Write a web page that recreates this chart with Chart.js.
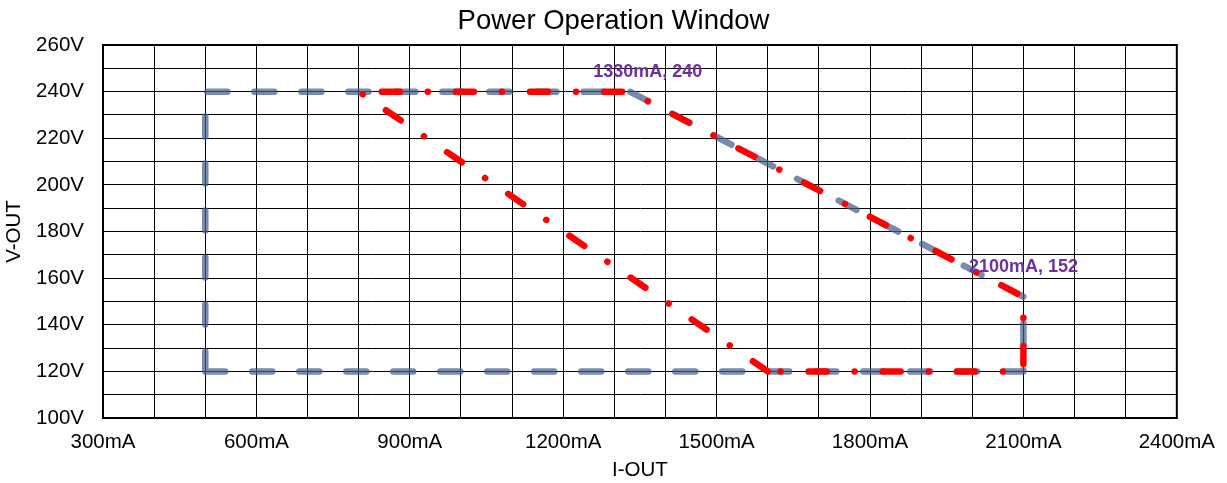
<!DOCTYPE html>
<html>
<head>
<meta charset="utf-8">
<script src="https://cdn.jsdelivr.net/npm/chart.js@4"></script>
<style>
html,body{margin:0;padding:0;background:#fff;}
#wrap{width:1227px;height:483px;}
</style>
</head>
<body>
<div id="wrap"><canvas id="c" width="1227" height="483"></canvas></div>
<script>
// ---- data ----
const blueX = [500, 2100, 2100, 1330, 500, 500];
const blueY = [120, 120, 152, 240, 240, 120];
const redX = [1600, 800, 1330, 2100, 2100, 1600];
const redY = [120, 240, 240, 152, 120, 120];
const labelX = [1330, 2100];
const labelY = [240, 152];
const labelText = ['1330mA, 240', '2100mA, 152'];
const titleText = 'Power Operation Window';
const xMin = 300, xMax = 2400, xStep = 100, xLabelEvery = 300;
const yMin = 100, yMax = 260, yStep = 10, yLabelEvery = 20;

const toPts = (xs, ys) => xs.map((x, i) => ({x: x, y: ys[i]}));
const FONT = "'Liberation Sans', Arial, sans-serif";

const labelOffsets = [[18, -20], [0, -30]];

const labelPlugin = {
  id: 'pointLabels',
  afterDatasetsDraw(chart) {
    const ctx = chart.ctx;
    const xs = chart.scales.x, ys = chart.scales.y;
    ctx.save();
    ctx.font = "bold 18px " + FONT;
    ctx.fillStyle = '#7030A0';
    ctx.textAlign = 'center';
    ctx.textBaseline = 'middle';
    labelText.forEach((t, i) => {
      const px = xs.getPixelForValue(labelX[i]) + labelOffsets[i][0];
      const py = ys.getPixelForValue(labelY[i]) + labelOffsets[i][1];
      ctx.fillText(t, px, py);
    });
    ctx.restore();
  },
  afterDraw(chart) {
    const ctx = chart.ctx;
    ctx.save();
    ctx.font = "27.5px " + FONT;
    ctx.fillStyle = '#000';
    ctx.textAlign = 'center';
    ctx.textBaseline = 'middle';
    ctx.fillText(titleText, chart.width / 2, 21);
    ctx.restore();
  }
};

const borderPlugin = {
  id: 'areaBorder',
  beforeDatasetsDraw(chart) {
    const a = chart.chartArea, ctx = chart.ctx;
    ctx.save();
    ctx.strokeStyle = '#000';
    ctx.lineWidth = 2;
    ctx.strokeRect(a.left, a.top, a.right - a.left, a.bottom - a.top);
    ctx.restore();
  }
};

new Chart(document.getElementById('c'), {
  type: 'scatter',
  data: {
    datasets: [
      {
        data: toPts(redX, redY),
        showLine: true,
        borderColor: '#FF0000',
        borderWidth: 6.5,
        borderDash: [18, 28, 0.1, 28],
        borderCapStyle: 'round',
        borderJoinStyle: 'round',
        pointRadius: 0,
        tension: 0,
        order: 0
      },
      {
        data: toPts(blueX, blueY),
        showLine: true,
        borderColor: 'rgba(68,94,140,0.72)',
        borderWidth: 6.5,
        borderDash: [20, 27],
        borderCapStyle: 'round',
        borderJoinStyle: 'round',
        pointRadius: 0,
        tension: 0,
        order: 1
      }
    ]
  },
  options: {
    responsive: false,
    animation: false,
    layout: {padding: {left: 0, right: 46, top: 45, bottom: 0}},
    plugins: {
      legend: {display: false},
      tooltip: {enabled: false},
      title: {display: false}
    },
    scales: {
      x: {
        type: 'linear',
        min: xMin, max: xMax,
        afterFit(s) { s.height = 65; },
        grid: {color: '#000', lineWidth: 1, drawTicks: false},
        border: {display: true, color: '#000', width: 2},
        ticks: {
          stepSize: xStep,
          color: '#000',
          padding: 12,
          maxRotation: 0,
          autoSkip: false,
          font: {family: FONT, size: 20.5},
          callback: v => (v % xLabelEvery === 0 ? v + 'mA' : '')
        },
        title: {
          display: true, text: 'I-OUT', color: '#000',
          font: {family: FONT, size: 20.5}, padding: {top: 1, bottom: 0}
        }
      },
      y: {
        type: 'linear',
        min: yMin, max: yMax,
        afterFit(s) { s.width = 103; },
        grid: {color: '#000', lineWidth: 1, drawTicks: false},
        border: {display: true, color: '#000', width: 2},
        ticks: {
          stepSize: yStep,
          color: '#000',
          padding: 19,
          autoSkip: false,
          font: {family: FONT, size: 20.5},
          callback: v => (v % yLabelEvery === 0 ? v + 'V' : '')
        },
        title: {
          display: true, text: 'V-OUT', color: '#000',
          font: {family: FONT, size: 20.5}, padding: {top: 2, bottom: 0}
        }
      }
    }
  },
  plugins: [borderPlugin, labelPlugin]
});
</script>
</body>
</html>
